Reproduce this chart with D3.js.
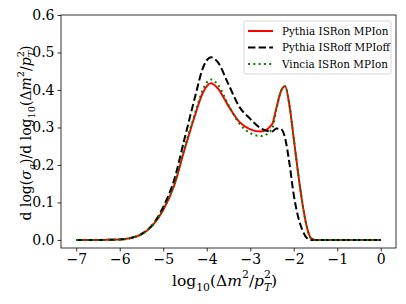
<!DOCTYPE html>
<html>
<head>
<meta charset="utf-8">
<script src="https://cdn.jsdelivr.net/npm/d3@7"></script>
<style>
  body { margin: 0; background: #fff; }
  text { font-family: "DejaVu Serif", serif; fill: #000; }
</style>
</head>
<body>
<svg id="chart" width="406" height="304"></svg>
<script>
// x grid: log10(dm^2/pT^2)
var xs = [-7, -6.5, -6, -5.75, -5.5, -5.25, -5, -4.75, -4.5, -4.25, -4.1, -3.9, -3.75, -3.5, -3.25, -3,
          -2.75, -2.5, -2.4, -2.3, -2.2, -2.1, -2, -1.9, -1.8, -1.7, -1.6, -1.5, -1, 0];

var pythiaOn = [0, 0, 0.001, 0.005, 0.015, 0.038, 0.08, 0.145, 0.245, 0.34, 0.39, 0.418, 0.405, 0.357, 0.315, 0.295,
                0.289, 0.308, 0.352, 0.395, 0.41, 0.36, 0.27, 0.178, 0.097, 0.035, 0.004, 0, 0, 0];

var pythiaOff = [0, 0, 0.001, 0.005, 0.016, 0.04, 0.088, 0.16, 0.275, 0.39, 0.455, 0.487, 0.475, 0.415, 0.355, 0.323,
                 0.297, 0.289, 0.297, 0.296, 0.272, 0.205, 0.12, 0.062, 0.026, 0.005, 0, 0, 0, 0];

var vinciaOn = [0, 0, 0.001, 0.005, 0.015, 0.039, 0.082, 0.148, 0.25, 0.345, 0.398, 0.428, 0.415, 0.36, 0.31, 0.285,
                0.277, 0.295, 0.348, 0.395, 0.41, 0.36, 0.27, 0.178, 0.097, 0.035, 0.004, 0, 0, 0];

var xTicks = [-7, -6, -5, -4, -3, -2, -1, 0];
var yTicks = [0.0, 0.1, 0.2, 0.3, 0.4, 0.5, 0.6];

var series = [
    {name: "Pythia ISRon MPIon", values: pythiaOn, color: "#ff0000", dash: null},
    {name: "Pythia ISRoff MPIoff", values: pythiaOff, color: "#000000", dash: "7.4,3.2"},
    {name: "Vincia ISRon MPIon", values: vinciaOn, color: "#008000", dash: "2,3.3"}
];

var margin = {top: 15, right: 10, bottom: 56, left: 61},
    width = 406 - margin.left - margin.right,
    height = 304 - margin.top - margin.bottom;

var svg = d3.select("#chart");
var g = svg.append("g")
    .attr("transform", "translate(" + margin.left + "," + margin.top + ")");

var x = d3.scaleLinear().domain([-7.35, 0.35]).range([0, width]);
var y = d3.scaleLinear().domain([-0.0215, 0.6]).range([height, 0]);

var line = d3.line()
    .x(function(d) { return x(d[0]); })
    .y(function(d) { return y(d[1]); })
    .curve(d3.curveMonotoneX);

series.forEach(function(s) {
    g.append("path")
        .datum(xs.map(function(v, i) { return [v, s.values[i]]; }))
        .attr("fill", "none")
        .attr("stroke", s.color)
        .attr("stroke-width", 2)
        .attr("stroke-dasharray", s.dash)
        .attr("d", line);
});

var xAxis = g.append("g")
    .attr("transform", "translate(0," + height + ")")
    .call(d3.axisBottom(x).tickValues(xTicks).tickSize(3.5).tickPadding(3).tickFormat(d3.format("d")));
var yAxis = g.append("g")
    .call(d3.axisLeft(y).tickValues(yTicks).tickSize(3.5).tickPadding(3).tickFormat(d3.format(".1f")));
[xAxis, yAxis].forEach(function(a) {
    a.select(".domain").remove();
    a.selectAll("line").attr("stroke", "#000").attr("stroke-width", 0.8);
    a.selectAll("text").style("font-size", "14px").style("font-family", "DejaVu Serif");
});

g.append("rect")
    .attr("width", width).attr("height", height)
    .attr("fill", "none").attr("stroke", "#000").attr("stroke-width", 0.8);

// math-ish text with sub/superscripts
function mathText(sel, parts, size) {
    var cur = 0, lastW = 0;
    parts.forEach(function(p) {
        var target = p.s === "sub" ? 0.32 * size : p.s === "sup" ? -0.5 * size : 0;
        var ts = sel.append("tspan")
            .attr("dy", target - cur)
            .style("font-size", (p.s ? size * 0.7 : size) + "px")
            .style("font-style", p.i ? "italic" : "normal")
            .text(p.t);
        if (p.back) ts.attr("dx", -lastW);
        lastW = ts.node().getComputedTextLength();
        cur = target;
    });
}

var xlab = svg.append("text")
    .attr("x", margin.left + width / 2 - 4)
    .attr("y", 286)
    .attr("text-anchor", "middle");
mathText(xlab, [
    {t: "log"}, {t: "10", s: "sub"}, {t: "(Δ"}, {t: "m", i: true}, {t: "2", s: "sup"},
    {t: "/"}, {t: "p", i: true}, {t: "T", s: "sub", i: true}, {t: "2", s: "sup", back: true}, {t: ")"}
], 15.5);

var ylab = svg.append("text")
    .attr("transform", "translate(31,133) rotate(-90)")
    .attr("text-anchor", "middle");
mathText(ylab, [
    {t: "d log("}, {t: "σ", i: true}, {t: "q", s: "sub", i: true}, {t: ")/d log"}, {t: "10", s: "sub"},
    {t: "(Δ"}, {t: "m", i: true}, {t: "2", s: "sup"}, {t: "/"}, {t: "p", i: true},
    {t: "T", s: "sub", i: true}, {t: "2", s: "sup", back: true}, {t: ")"}
], 14);

// legend
var legend = svg.append("g").attr("transform", "translate(244,21)");
legend.append("rect")
    .attr("width", 147).attr("height", 53).attr("rx", 2)
    .attr("fill", "#fff").attr("fill-opacity", 0.8)
    .attr("stroke", "#cccccc").attr("stroke-width", 0.8);
series.forEach(function(s, i) {
    var row = legend.append("g").attr("transform", "translate(0," + (10 + i * 16.5) + ")");
    row.append("line")
        .attr("x1", 4).attr("x2", 29)
        .attr("stroke", s.color).attr("stroke-width", 2)
        .attr("stroke-dasharray", s.dash);
    row.append("text")
        .attr("x", 38).attr("dy", "0.35em")
        .style("font-size", "10.4px")
        .text(s.name);
});
</script>
</body>
</html>
